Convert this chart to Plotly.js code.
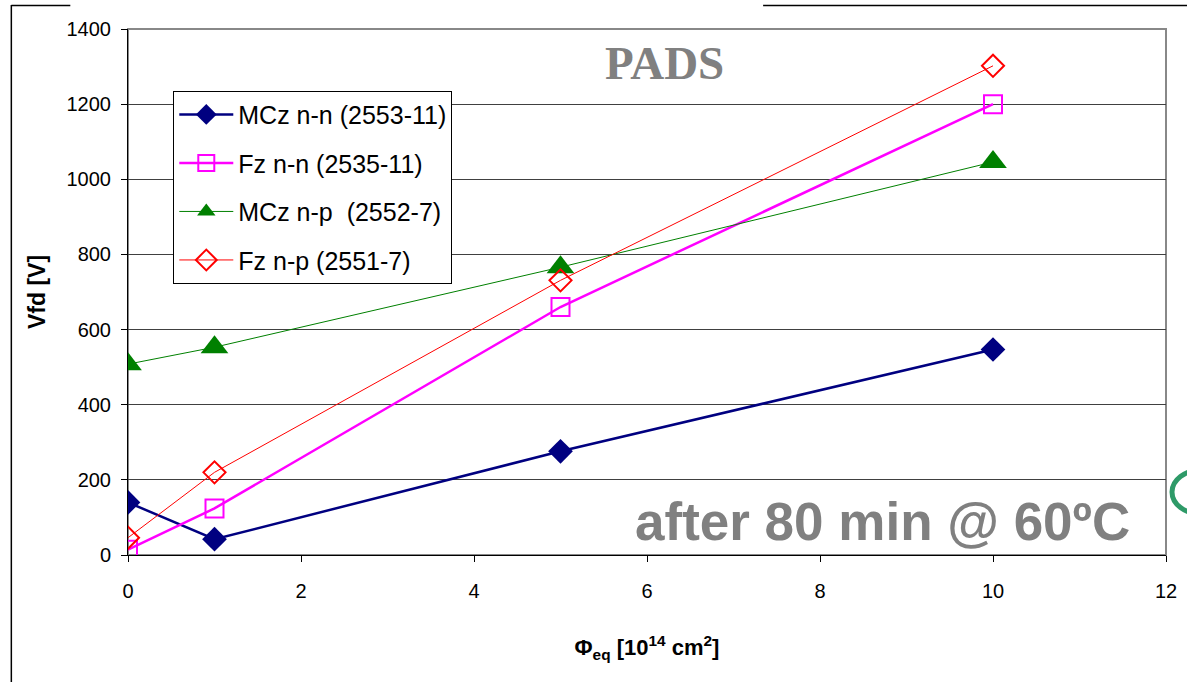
<!DOCTYPE html>
<html>
<head>
<meta charset="utf-8">
<script src="https://cdn.plot.ly/plotly-3.0.1.min.js"></script>
<style>html,body{margin:0;padding:0;background:#fff;}#chart{width:1187px;height:682px;}</style>
</head>
<body>
<div id="chart"></div>
<script>
// Data
const fluence = [0, 1, 5, 10];
const mczNN = [140, 42, 276, 547];
const fzNN = [14, 124, 660, 1200];
const mczNP = [508, 553, 766, 1046];
const fzNP = [46, 220, 731, 1302];
const seriesNames = ['MCz n-n (2553-11)', 'Fz n-n (2535-11)', 'MCz n-p  (2552-7)', 'Fz n-p (2551-7)'];
const yTicks = [0, 200, 400, 600, 800, 1000, 1200, 1400];
const xTicks = [0, 2, 4, 6, 8, 10, 12];

const W = 1187, H = 682;
const L = 127.7, R = 1166, T = 29, B = 555;
const px = x => (x - L) / (R - L);
const py = y => (B - y) / (B - T);

const traces = [
  {x: fluence, y: mczNN, name: seriesNames[0], mode: 'lines+markers', legendgroup: 'a',
   line: {color: '#000080', width: 2.5},
   marker: {symbol: 'diamond', size: 19, color: '#000080'}},
  {x: fluence, y: fzNN, name: seriesNames[1], mode: 'lines+markers', legendgroup: 'b',
   line: {color: '#ff00ff', width: 2.5},
   marker: {symbol: 'square-open', size: 18, color: '#ff00ff', line: {width: 2}}},
  {x: fluence, y: mczNP, name: seriesNames[2], mode: 'lines+markers', legendgroup: 'c',
   line: {color: '#008000', width: 1},
   marker: {symbol: 'triangle-up', size: 24, color: '#008000'}},
  {x: fluence, y: fzNP, name: seriesNames[3], mode: 'lines+markers', legendgroup: 'd',
   line: {color: '#ff0000', width: 1},
   marker: {symbol: 'diamond-open', size: 17, color: '#ff0000', line: {width: 2}}}
];

const layout = {
  width: W, height: H,
  margin: {l: L, r: W - R, t: T, b: H - B, pad: 0},
  paper_bgcolor: '#ffffff', plot_bgcolor: '#ffffff',
  font: {family: 'Arial, Liberation Sans, sans-serif', color: '#000', size: 20},
  showlegend: true,
  legend: {x: px(173), y: py(90.7), xanchor: 'left', yanchor: 'top',
    bgcolor: '#ffffff', bordercolor: '#000', borderwidth: 1,
    font: {size: 25, family: 'Arial, Liberation Sans, sans-serif'},
    itemwidth: 54,
    traceorder: 'grouped', tracegroupgap: 13},
  xaxis: {range: [0, 12], tickvals: xTicks, ticktext: xTicks.map(String),
    showgrid: false, zeroline: false, showline: true, linecolor: '#000', linewidth: 1,
    ticks: 'outside', ticklen: 6, tickcolor: '#000', ticklabelstandoff: 12,
    tickfont: {size: 20},
    title: {text: '<b>Φ<sub>eq</sub> [10<sup>14</sup> cm<sup>2</sup>]</b>', font: {size: 22}, standoff: 38}},
  yaxis: {range: [0, 1400], tickvals: yTicks, ticktext: yTicks.map(String),
    showgrid: true, gridcolor: '#404040', gridwidth: 1,
    zeroline: false, showline: true, linecolor: '#000', linewidth: 1,
    ticks: 'outside', ticklen: 6, tickcolor: '#000', ticklabelstandoff: 6,
    tickfont: {size: 20},
    title: {text: '<b>Vfd [V]</b>', font: {size: 23}, standoff: 14}},
  shapes: [
    {type: 'rect', xref: 'paper', yref: 'paper', x0: 0, x1: 1, y0: 0, y1: 1,
     line: {color: '#888888', width: 2}, layer: 'below'},
    {type: 'line', xref: 'paper', yref: 'paper', x0: px(11), x1: px(11), y0: py(5), y1: py(682), line: {color: '#000', width: 1.5}},
    {type: 'line', xref: 'paper', yref: 'paper', x0: px(11), x1: px(70), y0: py(5.5), y1: py(5.5), line: {color: '#000', width: 1.5}},
    {type: 'line', xref: 'paper', yref: 'paper', x0: px(763), x1: px(1190), y0: py(5.5), y1: py(5.5), line: {color: '#000', width: 1.5}},
    {type: 'circle', xref: 'paper', yref: 'paper', x0: px(1172), x1: px(1230), y0: py(470), y1: py(514),
     line: {color: '#2e9a68', width: 5}}
  ],
  annotations: [
    {text: '<b>PADS</b>', xref: 'paper', yref: 'paper', x: px(664), y: py(63), xanchor: 'center', yanchor: 'middle',
     showarrow: false, font: {family: 'Liberation Serif, Times New Roman, serif', size: 47, color: '#808080'}},
    {text: '<b>after 80 min @ 60ºC</b>', xref: 'paper', yref: 'paper', x: px(882), y: py(521), xanchor: 'center', yanchor: 'middle',
     showarrow: false, font: {family: 'Arial, Liberation Sans, sans-serif', size: 53, color: '#808080'}}
  ]
};

Plotly.newPlot('chart', traces, layout, {displayModeBar: false, staticPlot: true});
</script>
</body>
</html>
